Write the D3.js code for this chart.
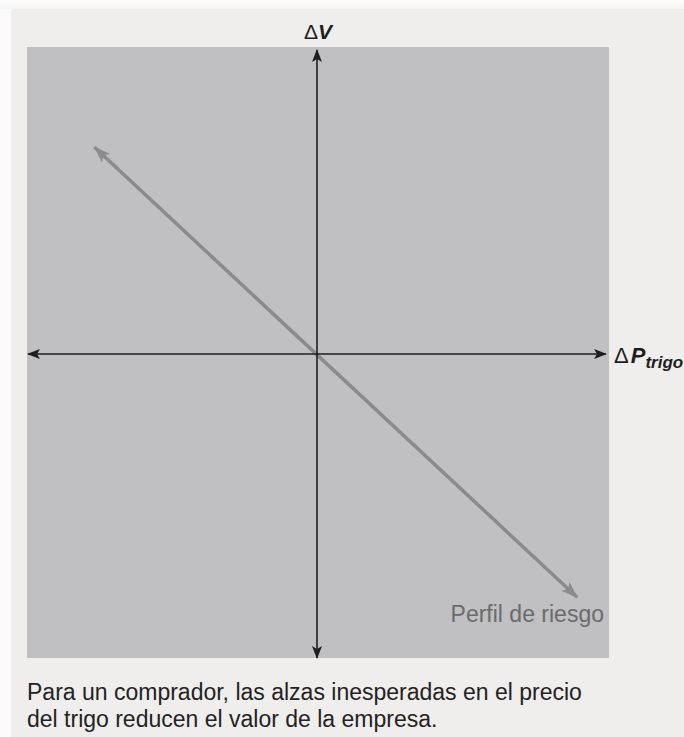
<!DOCTYPE html>
<html>
<head>
<meta charset="utf-8">
<script src="https://cdn.jsdelivr.net/npm/d3@7"></script>
<style>
  html, body { margin: 0; padding: 0; background: #fafafa; }
  svg { display: block; }
</style>
</head>
<body>
<script>
// Data (abstract units, axes run from -1 to 1)
var axisXEnds = [-1, 1];
var axisYEnds = [-1, 1];
var riskX = [-0.77, 0.90];
var riskY = [0.68, -0.80];
var yLabel = "V";
var xLabel = "P";
var xLabelSub = "trigo";
var riskLabel = "Perfil de riesgo";
var captionLines = [
    "Para un comprador, las alzas inesperadas en el precio",
    "del trigo reducen el valor de la empresa."
];

var width = 684, height = 737;
var font = "'Liberation Sans', Arial, Helvetica, sans-serif";

var svg = d3.select("body")
        .append("svg")
        .attr("width", width)
        .attr("height", height);

var defs = svg.append("defs");

var shadow = defs.append("linearGradient")
        .attr("id", "topShade")
        .attr("x1", 0).attr("y1", 0).attr("x2", 0).attr("y2", 1);
shadow.append("stop").attr("offset", "0%").attr("stop-color", "#fdfdfd");
shadow.append("stop").attr("offset", "100%").attr("stop-color", "#f4f4f4");

defs.append("marker")
        .attr("id", "blackArrow")
        .attr("markerUnits", "userSpaceOnUse")
        .attr("markerWidth", 14).attr("markerHeight", 10)
        .attr("refX", 12).attr("refY", 5)
        .attr("orient", "auto-start-reverse")
        .append("path")
        .attr("d", "M0,0 L13,5 L0,10 L3,5 Z")
        .attr("fill", "#1e1e1e");

defs.append("marker")
        .attr("id", "grayArrow")
        .attr("markerUnits", "userSpaceOnUse")
        .attr("markerWidth", 18).attr("markerHeight", 12)
        .attr("refX", 16).attr("refY", 6)
        .attr("orient", "auto-start-reverse")
        .append("path")
        .attr("d", "M0,0 L17,6 L0,12 L4,6 Z")
        .attr("fill", "#8b8b8b");

// page and card backgrounds
svg.append("rect")
        .attr("x", 0).attr("y", 0)
        .attr("width", width).attr("height", 9)
        .attr("fill", "url(#topShade)");
svg.append("rect")
        .attr("x", 11).attr("y", 9)
        .attr("width", width - 11).attr("height", height - 9)
        .attr("fill", "#efeeec");

// plot area
var plot = { left: 27, top: 47, right: 609, bottom: 658 };
svg.append("rect")
        .attr("x", plot.left).attr("y", plot.top)
        .attr("width", plot.right - plot.left)
        .attr("height", plot.bottom - plot.top)
        .attr("fill", "#c0bfc1");

var x = d3.scaleLinear().domain([-1, 1]).range([28, 606]);
var y = d3.scaleLinear().domain([-1, 1]).range([658, 50]);

var line = d3.line()
        .x(function(d) { return x(d[0]); })
        .y(function(d) { return y(d[1]); });

// risk profile
svg.append("path")
        .datum(d3.zip(riskX, riskY))
        .attr("d", line)
        .attr("fill", "none")
        .attr("stroke", "#8b8b8b")
        .attr("stroke-width", 3.5)
        .attr("marker-start", "url(#grayArrow)")
        .attr("marker-end", "url(#grayArrow)");

// axes
svg.append("path")
        .datum(axisXEnds.map(function(v) { return [v, 0]; }))
        .attr("d", line)
        .attr("stroke", "#1e1e1e")
        .attr("stroke-width", 1.6)
        .attr("marker-start", "url(#blackArrow)")
        .attr("marker-end", "url(#blackArrow)");

svg.append("path")
        .datum(axisYEnds.map(function(v) { return [0, v]; }))
        .attr("d", line)
        .attr("stroke", "#1e1e1e")
        .attr("stroke-width", 1.6)
        .attr("marker-start", "url(#blackArrow)")
        .attr("marker-end", "url(#blackArrow)");

// axis labels
var yl = svg.append("text")
        .attr("x", x(0) + 1).attr("y", 39)
        .attr("text-anchor", "middle")
        .attr("font-family", font)
        .attr("font-size", 21)
        .attr("fill", "#1e1e1e");
yl.append("tspan").text("\u0394");
yl.append("tspan").attr("font-style", "italic").attr("font-weight", "bold").text(yLabel);

var xl = svg.append("text")
        .attr("x", 614).attr("y", y(0) + 9)
        .attr("font-family", font)
        .attr("font-size", 22)
        .attr("fill", "#1e1e1e");
xl.append("tspan").text("\u0394");
xl.append("tspan").attr("dx", 2).attr("font-style", "italic").attr("font-weight", "bold").text(xLabel);
xl.append("tspan").attr("dy", 5).attr("font-size", 17)
        .attr("font-style", "italic").attr("font-weight", "bold").text(xLabelSub);

// risk label
svg.append("text")
        .attr("x", 604).attr("y", 622)
        .attr("text-anchor", "end")
        .attr("font-family", font)
        .attr("font-size", 23)
        .attr("fill", "#6b6b6b")
        .text(riskLabel);

// caption
svg.selectAll(".caption")
        .data(captionLines)
        .enter()
        .append("text")
        .attr("class", "caption")
        .attr("x", 27)
        .attr("y", function(d, i) { return 700 + i * 27; })
        .attr("font-family", font)
        .attr("font-size", 23)
        .attr("fill", "#232323")
        .text(function(d) { return d; });
</script>
</body>
</html>
